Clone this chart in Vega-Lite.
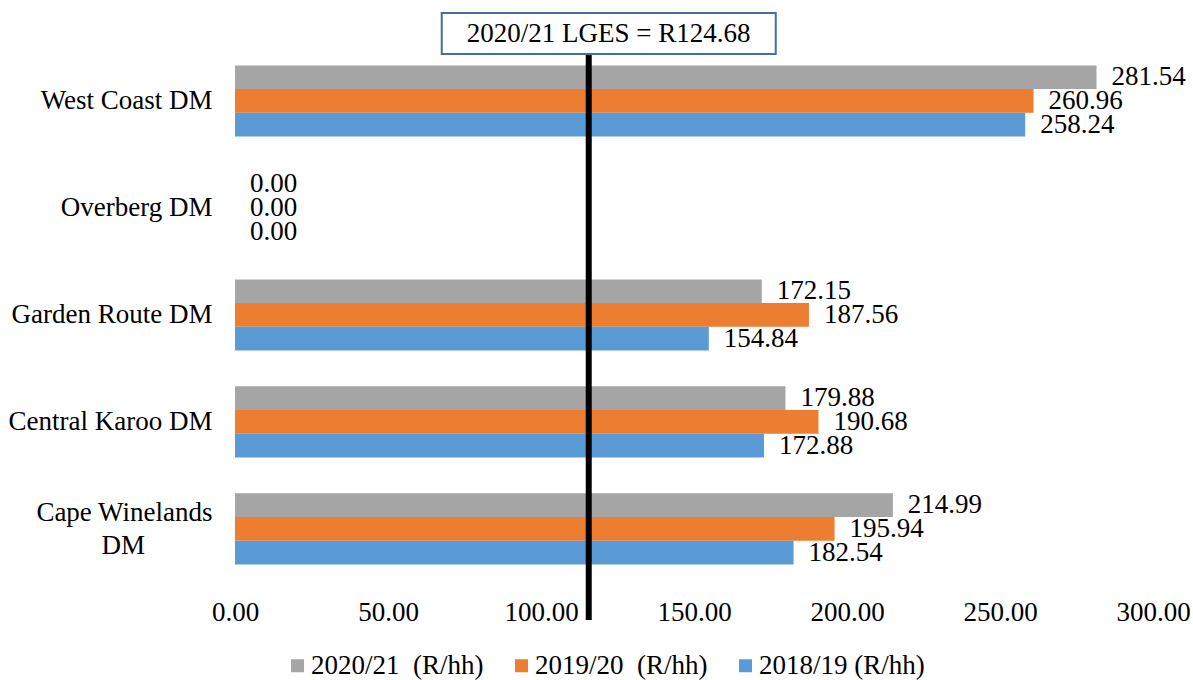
{
  "$schema": "https://vega.github.io/schema/vega-lite/v6.json",
  "width": 918,
  "height": 566,
  "autosize": {"type": "none"},
  "padding": {"left": 235, "top": 54, "right": 40, "bottom": 60},
  "background": "white",
  "config": {
    "font": "'Liberation Serif', 'Times New Roman', serif",
    "view": {"stroke": null},
    "text": {"font": "'Liberation Serif', 'Times New Roman', serif"},
    "axis": {"labelFont": "'Liberation Serif', 'Times New Roman', serif"},
    "legend": {"labelFont": "'Liberation Serif', 'Times New Roman', serif"}
  },
  "datasets": {
    "bars": [
      {"district": "West Coast DM", "series": "2020/21\u00a0 (R/hh)", "value": 281.54},
      {"district": "West Coast DM", "series": "2019/20\u00a0 (R/hh)", "value": 260.96},
      {"district": "West Coast DM", "series": "2018/19 (R/hh)", "value": 258.24},
      {"district": "Overberg DM", "series": "2020/21\u00a0 (R/hh)", "value": 0},
      {"district": "Overberg DM", "series": "2019/20\u00a0 (R/hh)", "value": 0},
      {"district": "Overberg DM", "series": "2018/19 (R/hh)", "value": 0},
      {"district": "Garden Route DM", "series": "2020/21\u00a0 (R/hh)", "value": 172.15},
      {"district": "Garden Route DM", "series": "2019/20\u00a0 (R/hh)", "value": 187.56},
      {"district": "Garden Route DM", "series": "2018/19 (R/hh)", "value": 154.84},
      {"district": "Central Karoo DM", "series": "2020/21\u00a0 (R/hh)", "value": 179.88},
      {"district": "Central Karoo DM", "series": "2019/20\u00a0 (R/hh)", "value": 190.68},
      {"district": "Central Karoo DM", "series": "2018/19 (R/hh)", "value": 172.88},
      {"district": "Cape Winelands DM", "series": "2020/21\u00a0 (R/hh)", "value": 214.99},
      {"district": "Cape Winelands DM", "series": "2019/20\u00a0 (R/hh)", "value": 195.94},
      {"district": "Cape Winelands DM", "series": "2018/19 (R/hh)", "value": 182.54}
    ],
    "lges": [
      {"label": "2020/21 LGES = R124.68", "position": 115.6}
    ]
  },
  "layer": [
    {
      "data": {"name": "bars"},
      "mark": {"type": "bar"},
      "encoding": {
        "y": {
          "field": "district", "type": "nominal",
          "sort": ["West Coast DM", "Overberg DM", "Garden Route DM", "Central Karoo DM", "Cape Winelands DM"],
          "scale": {"paddingInner": 0.336, "paddingOuter": 0.313, "align": 0.17},
          "axis": {
            "title": null, "domain": false, "ticks": false, "labelPadding": 23,
            "labelFontSize": 27, "labelColor": "black", "labelLineHeight": 33, "labelLimit": 0,
            "labelOffset": {"condition": {"test": "datum.value == 'Cape Winelands DM'", "value": -16}, "value": 0},
            "labelExpr": "datum.value == 'Cape Winelands DM' ? ['Cape Winelands', 'DM\u00a0\u00a0\u00a0\u00a0\u00a0\u00a0\u00a0\u00a0\u00a0\u00a0\u200b'] : datum.value"
          }
        },
        "yOffset": {
          "field": "series", "type": "nominal",
          "sort": ["2020/21\u00a0 (R/hh)", "2019/20\u00a0 (R/hh)", "2018/19 (R/hh)"]
        },
        "x": {
          "field": "value", "type": "quantitative",
          "scale": {"domain": [0, 300], "nice": false},
          "axis": {
            "title": null, "values": [0, 50, 100, 150, 200, 250, 300], "format": ".2f",
            "grid": false, "domain": false, "ticks": false, "labelFontSize": 27,
            "labelColor": "black", "labelPadding": -8, "labelBaseline": "middle",
            "labelFlush": false, "labelOverlap": false
          }
        },
        "color": {
          "field": "series", "type": "nominal",
          "scale": {
            "domain": ["2020/21\u00a0 (R/hh)", "2019/20\u00a0 (R/hh)", "2018/19 (R/hh)"],
            "range": ["#A5A5A5", "#ED7D31", "#5B9BD5"]
          },
          "legend": {
            "orient": "none", "legendX": 49, "legendY": 598, "direction": "horizontal",
            "title": null, "symbolType": "square", "symbolSize": 169, "symbolStrokeWidth": 0,
            "labelFontSize": 27, "labelColor": "black", "columnPadding": 24, "labelOffset": 0,
            "labelLimit": 0
          }
        }
      }
    },
    {
      "data": {"name": "bars"},
      "mark": {"type": "text", "align": "left", "baseline": "middle", "dx": 15, "fontSize": 27, "color": "black"},
      "encoding": {
        "y": {"field": "district", "type": "nominal", "sort": ["West Coast DM", "Overberg DM", "Garden Route DM", "Central Karoo DM", "Cape Winelands DM"]},
        "yOffset": {"field": "series", "type": "nominal", "sort": ["2020/21\u00a0 (R/hh)", "2019/20\u00a0 (R/hh)", "2018/19 (R/hh)"]},
        "x": {"field": "value", "type": "quantitative"},
        "text": {"field": "value", "type": "quantitative", "format": ".2f"}
      }
    },
    {
      "data": {"name": "lges"},
      "mark": {"type": "rule", "strokeWidth": 6, "color": "black"},
      "encoding": {"x": {"field": "position", "type": "quantitative"}}
    },
    {
      "data": {"name": "lges"},
      "mark": {
        "type": "point", "shape": "M-1,-0.1228H1V0.1228H-1Z", "size": 111556,
        "filled": true, "fill": "white", "stroke": "#41719C", "strokeWidth": 2,
        "opacity": 1, "y": -20.5, "xOffset": 20
      },
      "encoding": {"x": {"field": "position", "type": "quantitative"}}
    },
    {
      "data": {"name": "lges"},
      "mark": {"type": "text", "y": -20.5, "dx": 20, "fontSize": 27, "align": "center", "baseline": "middle", "color": "black"},
      "encoding": {
        "x": {"field": "position", "type": "quantitative"},
        "text": {"field": "label"}
      }
    }
  ]
}
